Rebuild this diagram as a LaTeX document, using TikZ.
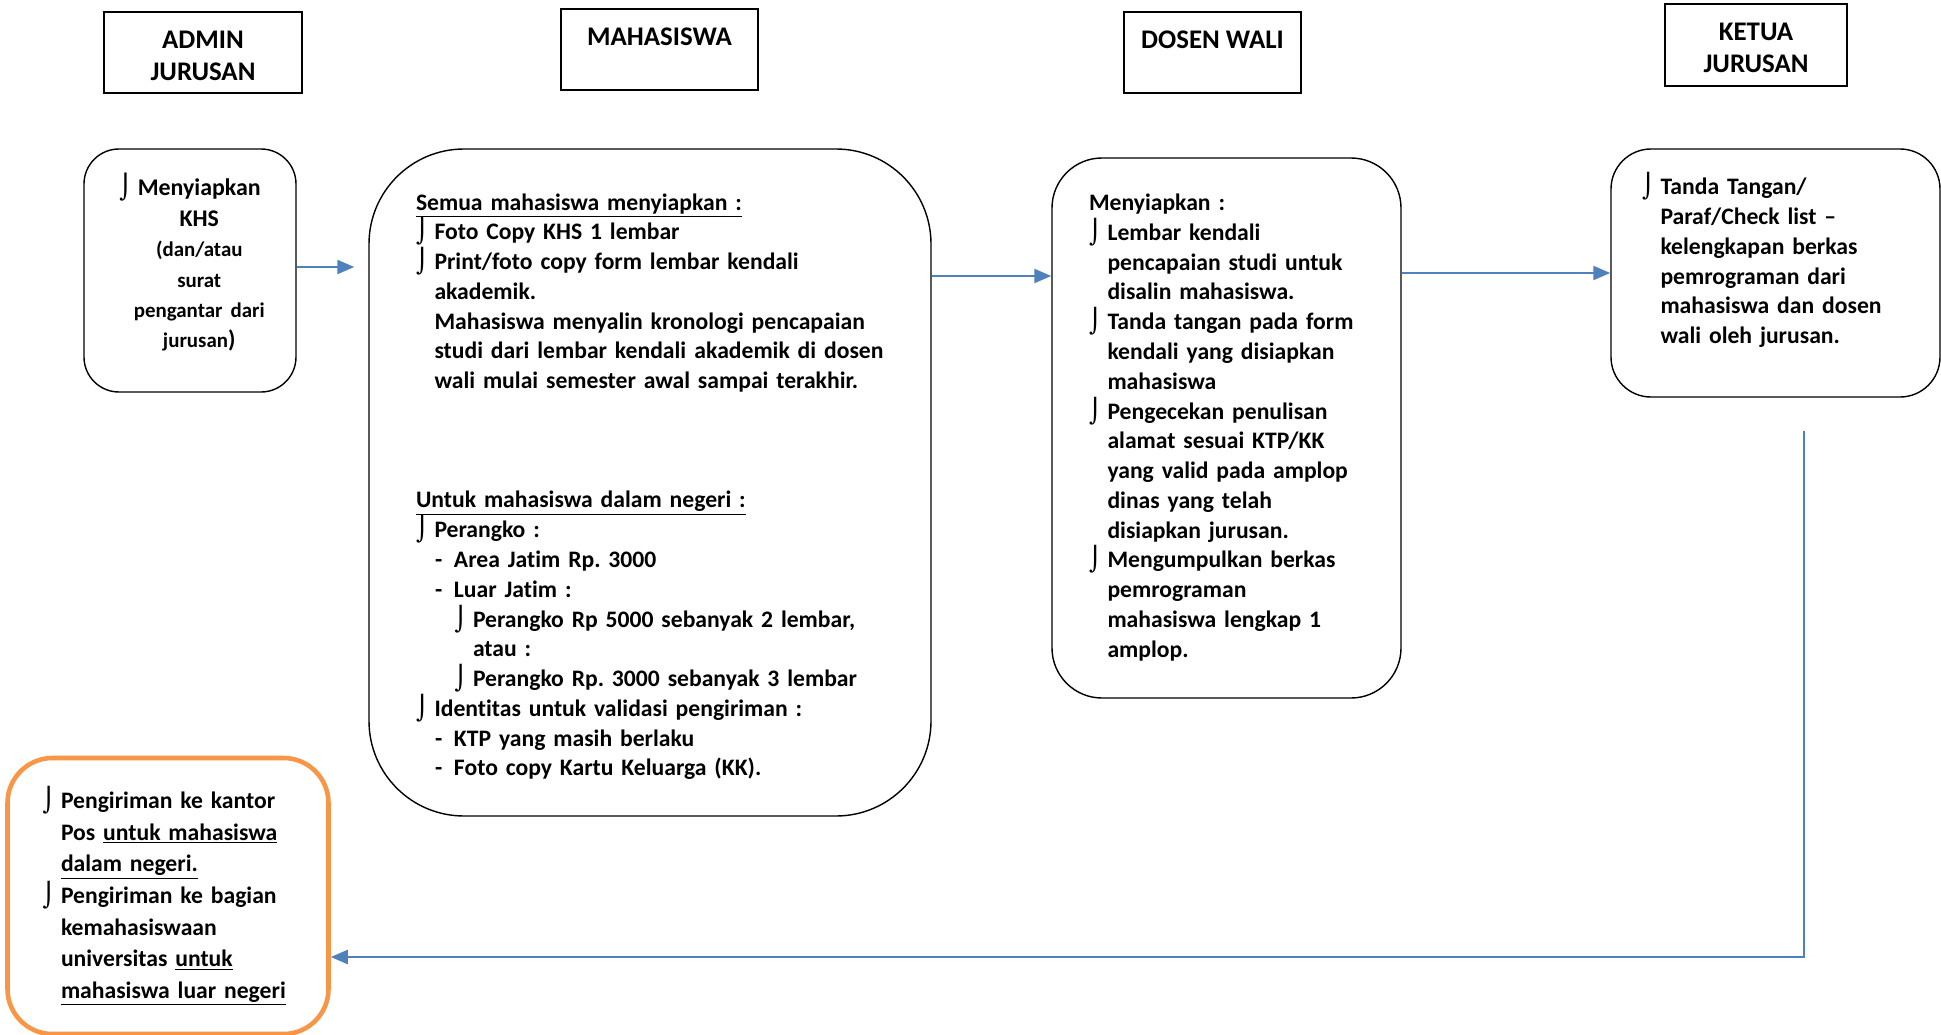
\documentclass[tikz,border=0pt]{standalone}
\usepackage{fontspec}
\setmainfont{Carlito}[BoldFont={Carlito Bold}, Ligatures={NoCommon}]
\newfontfamily\symfont{DejaVu Sans}
\usetikzlibrary{arrows.meta}

\definecolor{flowblue}{RGB}{79,129,189}
\definecolor{sendorange}{RGB}{247,150,70}

% bullet and indents used inside the boxes
\newcommand{\bul}{\makebox[0.37cm][l]{\symfont\mdseries ⌡}}
\newcommand{\ind}{\hspace*{0.37cm}}
\newcommand{\dsh}{\hspace*{0.38cm}\makebox[0.38cm][l]{-}}
\newcommand{\subbul}{\hspace*{0.77cm}\bul}
\newcommand{\subind}{\hspace*{1.14cm}}
\newcommand{\toppad}[1]{\rule{0pt}{#1}}

\begin{document}
\begin{tikzpicture}
			\tikzstyle{head} = [rectangle, draw=black, line width=0.8pt, minimum height=1.62cm, align=center, font=\fontsize{15.3}{18.2}\selectfont\bfseries]
			\tikzstyle{stepbox} = [rectangle, rounded corners=0.7cm, draw=black, line width=0.8pt, align=left, inner ysep=0pt, font=\fontsize{13.45}{16.95}\selectfont\bfseries]
			\tikzstyle{flow} = [-{Triangle[length=0.34cm,width=0.28cm]}, draw=flowblue, line width=1.3pt]

			\useasboundingbox (0,0) rectangle (38.82,-20.7);

			\node (admin) [head, minimum width=3.96cm, xshift=4.06cm, yshift=-1.05cm] {\toppad{13.3pt}ADMIN\\JURUSAN};
			\node (mahasiswa) [head, minimum width=3.94cm, xshift=13.19cm, yshift=-0.99cm] {\toppad{13.3pt}MAHASISWA\\\mbox{}};
			\node (dosen) [head, minimum width=3.54cm, xshift=24.25cm, yshift=-1.05cm] {\toppad{13.3pt}DOSEN WALI\\\mbox{}};
			\node (ketua) [head, minimum width=3.64cm, minimum height=1.64cm, xshift=35.12cm, yshift=-0.9cm] {\toppad{13.3pt}KETUA\\JURUSAN};

			\node (adminbox) [stepbox, align=center, inner xsep=0.2cm, text width=3.84cm, minimum height=4.86cm, xshift=3.8cm, yshift=-5.41cm, font=\fontsize{13.6}{17.3}\selectfont\bfseries]
				{\bul Menyiapkan\\\ind KHS\\{\fontsize{11.9}{17.3}\selectfont\ind (dan/atau}\\{\fontsize{11.9}{17.3}\selectfont\ind surat}\\{\fontsize{11.9}{17.3}\selectfont\ind pengantar dari}\\{\fontsize{11.9}{17.3}\selectfont\ind jurusan})\\[-0.21cm]\mbox{}};

			\node (mhsbox) [stepbox, rounded corners=1.9cm, inner xsep=0.94cm, text width=9.36cm, minimum height=13.34cm, xshift=13.0cm, yshift=-9.65cm]
				{\toppad{14.2pt}\underline{Semua mahasiswa menyiapkan :}\\
				\bul Foto Copy KHS 1 lembar\\
				\bul Print/foto copy form lembar kendali\\
				\ind akademik.\\
				\ind Mahasiswa menyalin kronologi pencapaian\\
				\ind\mbox{studi dari lembar kendali\hspace{0.35em}akademik di dosen}\\
				\ind wali mulai semester awal sampai terakhir.\\
				\mbox{}\\
				\mbox{}\\
				\mbox{}\\
				\underline{Untuk mahasiswa dalam negeri :}\\
				\bul Perangko :\\
				\dsh Area Jatim Rp.\ 3000\\
				\dsh Luar Jatim :\\
				\subbul Perangko Rp 5000 sebanyak 2 lembar,\\
				\subind atau :\\
				\subbul Perangko Rp.\ 3000 sebanyak 3 lembar\\
				\bul Identitas untuk validasi pengiriman :\\
				\dsh KTP yang masih berlaku\\
				\dsh Foto copy Kartu Keluarga (KK).};

			\node (dosenbox) [stepbox, rounded corners=1.0cm, inner xsep=0.74cm, text width=5.5cm, minimum height=10.8cm, xshift=24.53cm, yshift=-8.56cm]
				{Menyiapkan :\\
				\bul Lembar kendali\\
				\ind pencapaian studi untuk\\
				\ind disalin mahasiswa.\\
				\bul Tanda tangan pada form\\
				\ind kendali yang disiapkan\\
				\ind mahasiswa\\
				\bul Pengecekan penulisan\\
				\ind alamat sesuai KTP/KK\\
				\ind yang valid pada amplop\\
				\ind dinas yang telah\\
				\ind disiapkan jurusan.\\
				\bul Mengumpulkan berkas\\
				\ind pemrograman\\
				\ind mahasiswa lengkap 1\\
				\ind amplop.\\[-0.5cm]\mbox{}};

			\node (ketuabox) [stepbox, rounded corners=0.8cm, inner xsep=0.62cm, text width=5.34cm, minimum height=4.96cm, xshift=35.51cm, yshift=-5.46cm]
				{\bul Tanda Tangan/\\
				\ind Paraf/Check list --\\
				\ind kelengkapan berkas\\
				\ind pemrograman dari\\
				\ind mahasiswa dan dosen\\
				\ind wali oleh jurusan.\\
				\mbox{}};

			\node (kirimbox) [stepbox, rounded corners=0.9cm, draw=sendorange, line width=2.6pt, inner xsep=0.7cm, text width=5.02cm, minimum height=5.52cm, xshift=3.36cm, yshift=-17.92cm, font=\fontsize{13.45}{18}\selectfont\bfseries]
				{\bul Pengiriman ke kantor\\
				\ind Pos \underline{untuk mahasiswa}\\
				\ind \underline{dalam negeri.}\\
				\bul Pengiriman ke bagian\\
				\ind kemahasiswaan\\
				\ind universitas \underline{untuk}\\
				\ind \underline{mahasiswa luar negeri}};

			\coordinate (ret) at ([xshift=0.57cm, yshift=-0.66cm]ketuabox.south);

			\draw[flow, shorten >=0.28cm] ([yshift=0.07cm]adminbox.east) -- ([yshift=0.07cm]adminbox.east -| mhsbox.west);
			\draw[flow] ([yshift=4.13cm]mhsbox.east) -- ([yshift=4.13cm]mhsbox.east -| dosenbox.west);
			\draw[flow] (ketuabox.west -| dosenbox.east) -- (ketuabox.west);
			\draw[flow] (ret) |- ([yshift=-1.22cm]kirimbox.east);

\end{tikzpicture}
\end{document}
